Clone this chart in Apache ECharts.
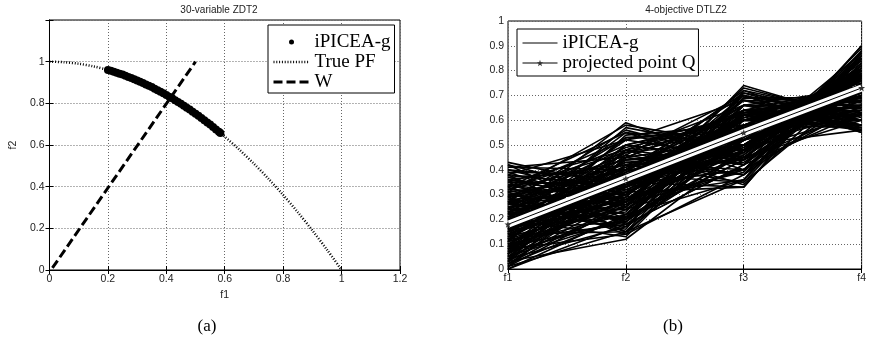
<!DOCTYPE html>
<html>
<head>
<meta charset="utf-8">
<script src="https://cdn.jsdelivr.net/npm/echarts@6/dist/echarts.min.js"></script>
<style>
  html, body { margin: 0; padding: 0; background: #fff; }
  #zdt2 { position: absolute; left: 0; top: 0; width: 438px; height: 344px; }
  #dtlz2 { position: absolute; left: 438px; top: 0; width: 431px; height: 344px; }
</style>
</head>
<body>
<div id="zdt2"></div>
<div id="dtlz2"></div>
<script>
// (a) 30-variable ZDT2
var pfF1 = [0, 0.05, 0.1, 0.15, 0.2, 0.25, 0.3, 0.35, 0.4, 0.45, 0.5, 0.55, 0.6, 0.65, 0.7, 0.75, 0.8, 0.85, 0.9, 0.95, 1];
var pfF2 = [1, 0.9975, 0.99, 0.9775, 0.96, 0.9375, 0.91, 0.8775, 0.84, 0.7975, 0.75, 0.6975, 0.64, 0.5775, 0.51, 0.4375, 0.36, 0.2775, 0.19, 0.0975, 0];
var popF1 = [0.2, 0.21, 0.22, 0.23, 0.24, 0.25, 0.26, 0.27, 0.28, 0.29, 0.3, 0.31, 0.32, 0.33, 0.34, 0.35, 0.36, 0.37, 0.38, 0.39,
  0.4, 0.41, 0.42, 0.43, 0.44, 0.45, 0.46, 0.47, 0.48, 0.49, 0.5, 0.51, 0.52, 0.53, 0.54, 0.55, 0.56, 0.57, 0.58, 0.585];
var popF2 = [0.96, 0.956, 0.952, 0.947, 0.942, 0.938, 0.932, 0.927, 0.922, 0.916, 0.91, 0.904, 0.898, 0.891, 0.884, 0.878, 0.87, 0.863, 0.856, 0.848,
  0.84, 0.832, 0.824, 0.815, 0.806, 0.798, 0.788, 0.779, 0.77, 0.76, 0.75, 0.74, 0.73, 0.719, 0.708, 0.698, 0.686, 0.675, 0.664, 0.658];
var wF1 = [0.01, 0.5];
var wF2 = [0.01, 1.0];

// (b) 4-objective DTLZ2
var objectives = ["f1", "f2", "f3", "f4"];
var qPoint = [0.18, 0.365, 0.55, 0.73];
var solutions = [
  [0.43, 0.33, 0.50, 0.68], [0.42, 0.20, 0.62, 0.63], [0.41, 0.45, 0.38, 0.70], [0.40, 0.28, 0.45, 0.75],
  [0.39, 0.38, 0.60, 0.58], [0.38, 0.15, 0.55, 0.72], [0.38, 0.52, 0.45, 0.60], [0.37, 0.25, 0.70, 0.56],
  [0.36, 0.42, 0.35, 0.74], [0.36, 0.32, 0.52, 0.70], [0.35, 0.18, 0.42, 0.82], [0.35, 0.48, 0.58, 0.57],
  [0.34, 0.36, 0.66, 0.56], [0.34, 0.22, 0.36, 0.85], [0.33, 0.55, 0.40, 0.66], [0.32, 0.30, 0.57, 0.69],
  [0.32, 0.44, 0.48, 0.68], [0.31, 0.14, 0.62, 0.71], [0.31, 0.58, 0.50, 0.56], [0.30, 0.26, 0.40, 0.83],
  [0.30, 0.40, 0.70, 0.55], [0.29, 0.35, 0.33, 0.87], [0.29, 0.50, 0.62, 0.56], [0.28, 0.20, 0.50, 0.80],
  [0.28, 0.46, 0.38, 0.78], [0.27, 0.33, 0.68, 0.60], [0.27, 0.56, 0.44, 0.64], [0.26, 0.24, 0.58, 0.74],
  [0.26, 0.41, 0.52, 0.70], [0.25, 0.16, 0.72, 0.62], [0.25, 0.37, 0.45, 0.78], [0.24, 0.53, 0.56, 0.60],
  [0.24, 0.29, 0.36, 0.86], [0.23, 0.45, 0.64, 0.58], [0.23, 0.21, 0.46, 0.84], [0.22, 0.34, 0.60, 0.69],
  [0.22, 0.59, 0.42, 0.63], [0.21, 0.27, 0.66, 0.66], [0.21, 0.48, 0.34, 0.79], [0.20, 0.39, 0.55, 0.71],
  [0.20, 0.13, 0.60, 0.76], [0.19, 0.31, 0.48, 0.80], [0.19, 0.52, 0.68, 0.57], [0.18, 0.43, 0.40, 0.78],
  [0.18, 0.23, 0.71, 0.63], [0.17, 0.36, 0.58, 0.72], [0.17, 0.57, 0.48, 0.62], [0.16, 0.19, 0.52, 0.82],
  [0.16, 0.47, 0.63, 0.60], [0.15, 0.28, 0.39, 0.88], [0.15, 0.40, 0.66, 0.62], [0.14, 0.15, 0.64, 0.74],
  [0.14, 0.50, 0.44, 0.73], [0.13, 0.33, 0.54, 0.76], [0.13, 0.25, 0.74, 0.60], [0.12, 0.44, 0.50, 0.74],
  [0.12, 0.18, 0.42, 0.89], [0.11, 0.54, 0.58, 0.60], [0.11, 0.30, 0.62, 0.72], [0.10, 0.38, 0.35, 0.85],
  [0.10, 0.22, 0.56, 0.79], [0.09, 0.46, 0.70, 0.55], [0.09, 0.27, 0.47, 0.84], [0.08, 0.35, 0.64, 0.68],
  [0.08, 0.14, 0.38, 0.90], [0.07, 0.42, 0.55, 0.72], [0.07, 0.20, 0.69, 0.69], [0.06, 0.31, 0.33, 0.88],
  [0.06, 0.50, 0.60, 0.62], [0.05, 0.24, 0.58, 0.77], [0.05, 0.37, 0.45, 0.81], [0.04, 0.17, 0.66, 0.73],
  [0.04, 0.45, 0.52, 0.72], [0.03, 0.29, 0.73, 0.61], [0.03, 0.12, 0.48, 0.87], [0.02, 0.34, 0.40, 0.85],
  [0.02, 0.21, 0.62, 0.75], [0.01, 0.26, 0.54, 0.80], [0.01, 0.15, 0.36, 0.90], [0.00, 0.18, 0.52, 0.83],
  [0.20, 0.33, 0.50, 0.76], [0.15, 0.35, 0.55, 0.74], [0.22, 0.38, 0.57, 0.70], [0.18, 0.30, 0.60, 0.72],
  [0.25, 0.34, 0.52, 0.73], [0.12, 0.39, 0.56, 0.71], [0.27, 0.40, 0.58, 0.66], [0.16, 0.32, 0.49, 0.79],
  [0.09, 0.36, 0.52, 0.76], [0.23, 0.36, 0.62, 0.65], [0.30, 0.35, 0.49, 0.73], [0.05, 0.40, 0.57, 0.71],
  [0.42, 0.30, 0.58, 0.62], [0.40, 0.36, 0.50, 0.68], [0.39, 0.24, 0.52, 0.74], [0.37, 0.40, 0.44, 0.72],
  [0.36, 0.27, 0.62, 0.64], [0.35, 0.34, 0.40, 0.80], [0.33, 0.19, 0.58, 0.73], [0.33, 0.47, 0.52, 0.62],
  [0.31, 0.37, 0.60, 0.62], [0.30, 0.22, 0.66, 0.65], [0.29, 0.42, 0.43, 0.75], [0.28, 0.31, 0.55, 0.72],
  [0.27, 0.17, 0.48, 0.82], [0.26, 0.49, 0.60, 0.58], [0.25, 0.27, 0.64, 0.68], [0.24, 0.43, 0.47, 0.74],
  [0.23, 0.31, 0.70, 0.60], [0.22, 0.24, 0.40, 0.86], [0.21, 0.41, 0.60, 0.66], [0.20, 0.55, 0.50, 0.63],
  [0.19, 0.26, 0.56, 0.77], [0.18, 0.47, 0.57, 0.64], [0.17, 0.21, 0.44, 0.86], [0.16, 0.38, 0.61, 0.68],
  [0.15, 0.53, 0.52, 0.65], [0.14, 0.29, 0.68, 0.66], [0.13, 0.42, 0.38, 0.81], [0.12, 0.27, 0.50, 0.81],
  [0.11, 0.48, 0.66, 0.58], [0.10, 0.33, 0.60, 0.72], [0.09, 0.19, 0.54, 0.81], [0.08, 0.44, 0.46, 0.77],
  [0.07, 0.28, 0.63, 0.72], [0.06, 0.39, 0.71, 0.58], [0.05, 0.20, 0.44, 0.87], [0.04, 0.33, 0.56, 0.76],
  [0.03, 0.48, 0.42, 0.77], [0.02, 0.27, 0.69, 0.67], [0.01, 0.38, 0.50, 0.78], [0.00, 0.22, 0.61, 0.76],
  [0.41, 0.40, 0.64, 0.58], [0.38, 0.33, 0.56, 0.66], [0.34, 0.28, 0.48, 0.77], [0.32, 0.52, 0.60, 0.57],
  [0.29, 0.15, 0.54, 0.78], [0.26, 0.36, 0.72, 0.56], [0.24, 0.20, 0.63, 0.73], [0.21, 0.35, 0.45, 0.80],
  [0.19, 0.40, 0.64, 0.62], [0.17, 0.28, 0.53, 0.78], [0.14, 0.36, 0.47, 0.79], [0.11, 0.25, 0.58, 0.77],
  [0.08, 0.30, 0.55, 0.78], [0.06, 0.45, 0.63, 0.64], [0.03, 0.38, 0.60, 0.70]
];

var tickFont = { fontFamily: "Liberation Sans", fontSize: 10.5, color: "#222" };
var gridLine = { show: true, lineStyle: { color: "#666", width: 1, type: [1, 2] } };
var starPath = "path://M5,0L6.2,3.8L10,3.8L7,6.1L8.1,10L5,7.6L1.9,10L3,6.1L0,3.8L3.8,3.8Z";

function zip(xs, ys) {
  return xs.map(function (x, i) { return [x, ys[i]]; });
}

function mirrorAxis(base, position) {
  return Object.assign({}, base, {
    position: position,
    axisLabel: { show: false },
    splitLine: { show: false },
    name: ""
  });
}

// ---------- (a) ----------
var chartA = echarts.init(document.getElementById("zdt2"));
var xA = {
  type: "value", min: 0, max: 1.2, interval: 0.2,
  axisLine: { lineStyle: { color: "#000" } },
  axisTick: { inside: true, length: 4, lineStyle: { color: "#000" } },
  axisLabel: Object.assign({ margin: 4 }, tickFont),
  splitLine: gridLine,
  name: "f1", nameLocation: "middle", nameGap: 18,
  nameTextStyle: tickFont
};
var yA = {
  type: "value", min: 0, max: 1.2, interval: 0.2,
  axisLine: { lineStyle: { color: "#000" } },
  axisTick: { inside: true, length: 4, lineStyle: { color: "#000" } },
  axisLabel: Object.assign({
    margin: 5,
    formatter: function (v) { return v > 1.01 ? "" : v; }
  }, tickFont),
  splitLine: gridLine,
  name: "f2", nameLocation: "middle", nameGap: 26,
  nameTextStyle: tickFont
};
chartA.setOption({
  animation: false,
  grid: { left: 41, top: 20, right: 38, bottom: 74, show: true, borderColor: "#000", borderWidth: 1, backgroundColor: "#fff" },
  xAxis: [xA, mirrorAxis(xA, "top")],
  yAxis: [yA, mirrorAxis(yA, "right")],
  legend: {
    orient: "vertical", left: 268, top: 25,
    padding: [7, 4, 1, 4], itemGap: 0, itemWidth: 36, itemHeight: 5,
    backgroundColor: "#fff", borderColor: "#000", borderWidth: 1, borderRadius: 0,
    textStyle: { fontFamily: "Liberation Serif", fontSize: 19, color: "#000", lineHeight: 20 },
    data: [
      { name: "iPICEA-g" },
      { name: "True PF", itemStyle: { color: "transparent", borderWidth: 0 }, lineStyle: { width: 2.5 } },
      { name: "W", itemStyle: { color: "transparent", borderWidth: 0 }, lineStyle: { width: 3 } }
    ]
  },
  graphic: [
    { type: "text", x: 219, y: 10, style: { text: "30-variable ZDT2", align: "center", verticalAlign: "middle", fontFamily: "Liberation Sans", fontSize: 10, fill: "#222" } },
    { type: "text", x: 207, y: 327, style: { text: "(a)", align: "center", verticalAlign: "middle", fontFamily: "Liberation Serif", fontSize: 17, fill: "#000" } }
  ],
  series: [
    {
      name: "True PF", type: "line", data: zip(pfF1, pfF2), smooth: 0.3,
      symbol: "none", color: "#000",
      lineStyle: { color: "#000", width: 2.5, type: [1, 1.8] }
    },
    {
      name: "iPICEA-g", type: "scatter", data: zip(popF1, popF2),
      symbol: "circle", symbolSize: 8, itemStyle: { color: "#000", opacity: 1 }
    },
    {
      name: "W", type: "line", data: zip(wF1, wF2),
      symbol: "none", color: "#000",
      lineStyle: { color: "#000", width: 3, type: [9, 4] }
    }
  ]
});

// ---------- (b) ----------
var chartB = echarts.init(document.getElementById("dtlz2"));
var xB = {
  type: "category", data: objectives, boundaryGap: false,
  axisLine: { lineStyle: { color: "#000" } },
  axisTick: { inside: true, length: 4, lineStyle: { color: "#000" } },
  axisLabel: Object.assign({ margin: 4 }, tickFont),
  splitLine: gridLine
};
var yB = {
  type: "value", min: 0, max: 1, interval: 0.1,
  axisLine: { lineStyle: { color: "#000" } },
  axisTick: { inside: true, length: 4, lineStyle: { color: "#000" } },
  axisLabel: Object.assign({ margin: 4 }, tickFont),
  splitLine: gridLine
};

var seriesB = solutions.map(function (s) {
  return {
    name: "iPICEA-g", type: "line", data: s, symbol: "none", silent: true,
    color: "#000", lineStyle: { color: "#000", width: 1.6 }, z: 2
  };
});
seriesB.push({
  name: "Q band", type: "line", data: qPoint, symbol: "none", silent: true,
  lineStyle: { color: "#fff", width: 7 }, z: 3
});
seriesB.push({
  name: "projected point Q", type: "line", data: qPoint,
  symbol: starPath, symbolSize: 7, showSymbol: true,
  color: "#000", itemStyle: { color: "#333" },
  lineStyle: { color: "#000", width: 1 }, z: 4
});

chartB.setOption({
  animation: false,
  grid: { left: 70, top: 21, right: 2, bottom: 75, show: true, borderColor: "#000", borderWidth: 1, backgroundColor: "#fff" },
  xAxis: [xB, mirrorAxis(xB, "top")],
  yAxis: [yB, mirrorAxis(yB, "right")],
  legend: {
    orient: "vertical", left: 79, top: 29,
    padding: [4, 3, 3, 5], itemGap: 0, itemWidth: 35, itemHeight: 8,
    backgroundColor: "#fff", borderColor: "#000", borderWidth: 1, borderRadius: 0,
    textStyle: { fontFamily: "Liberation Serif", fontSize: 19, color: "#000", lineHeight: 20 },
    data: [
      { name: "iPICEA-g", itemStyle: { color: "transparent", borderWidth: 0 }, lineStyle: { width: 1 } },
      { name: "projected point Q", lineStyle: { width: 1 } }
    ]
  },
  graphic: [
    { type: "text", x: 248, y: 10, style: { text: "4-objective DTLZ2", align: "center", verticalAlign: "middle", fontFamily: "Liberation Sans", fontSize: 10, fill: "#222" } },
    { type: "text", x: 235, y: 327, style: { text: "(b)", align: "center", verticalAlign: "middle", fontFamily: "Liberation Serif", fontSize: 17, fill: "#000" } }
  ],
  series: seriesB
});
</script>
</body>
</html>
